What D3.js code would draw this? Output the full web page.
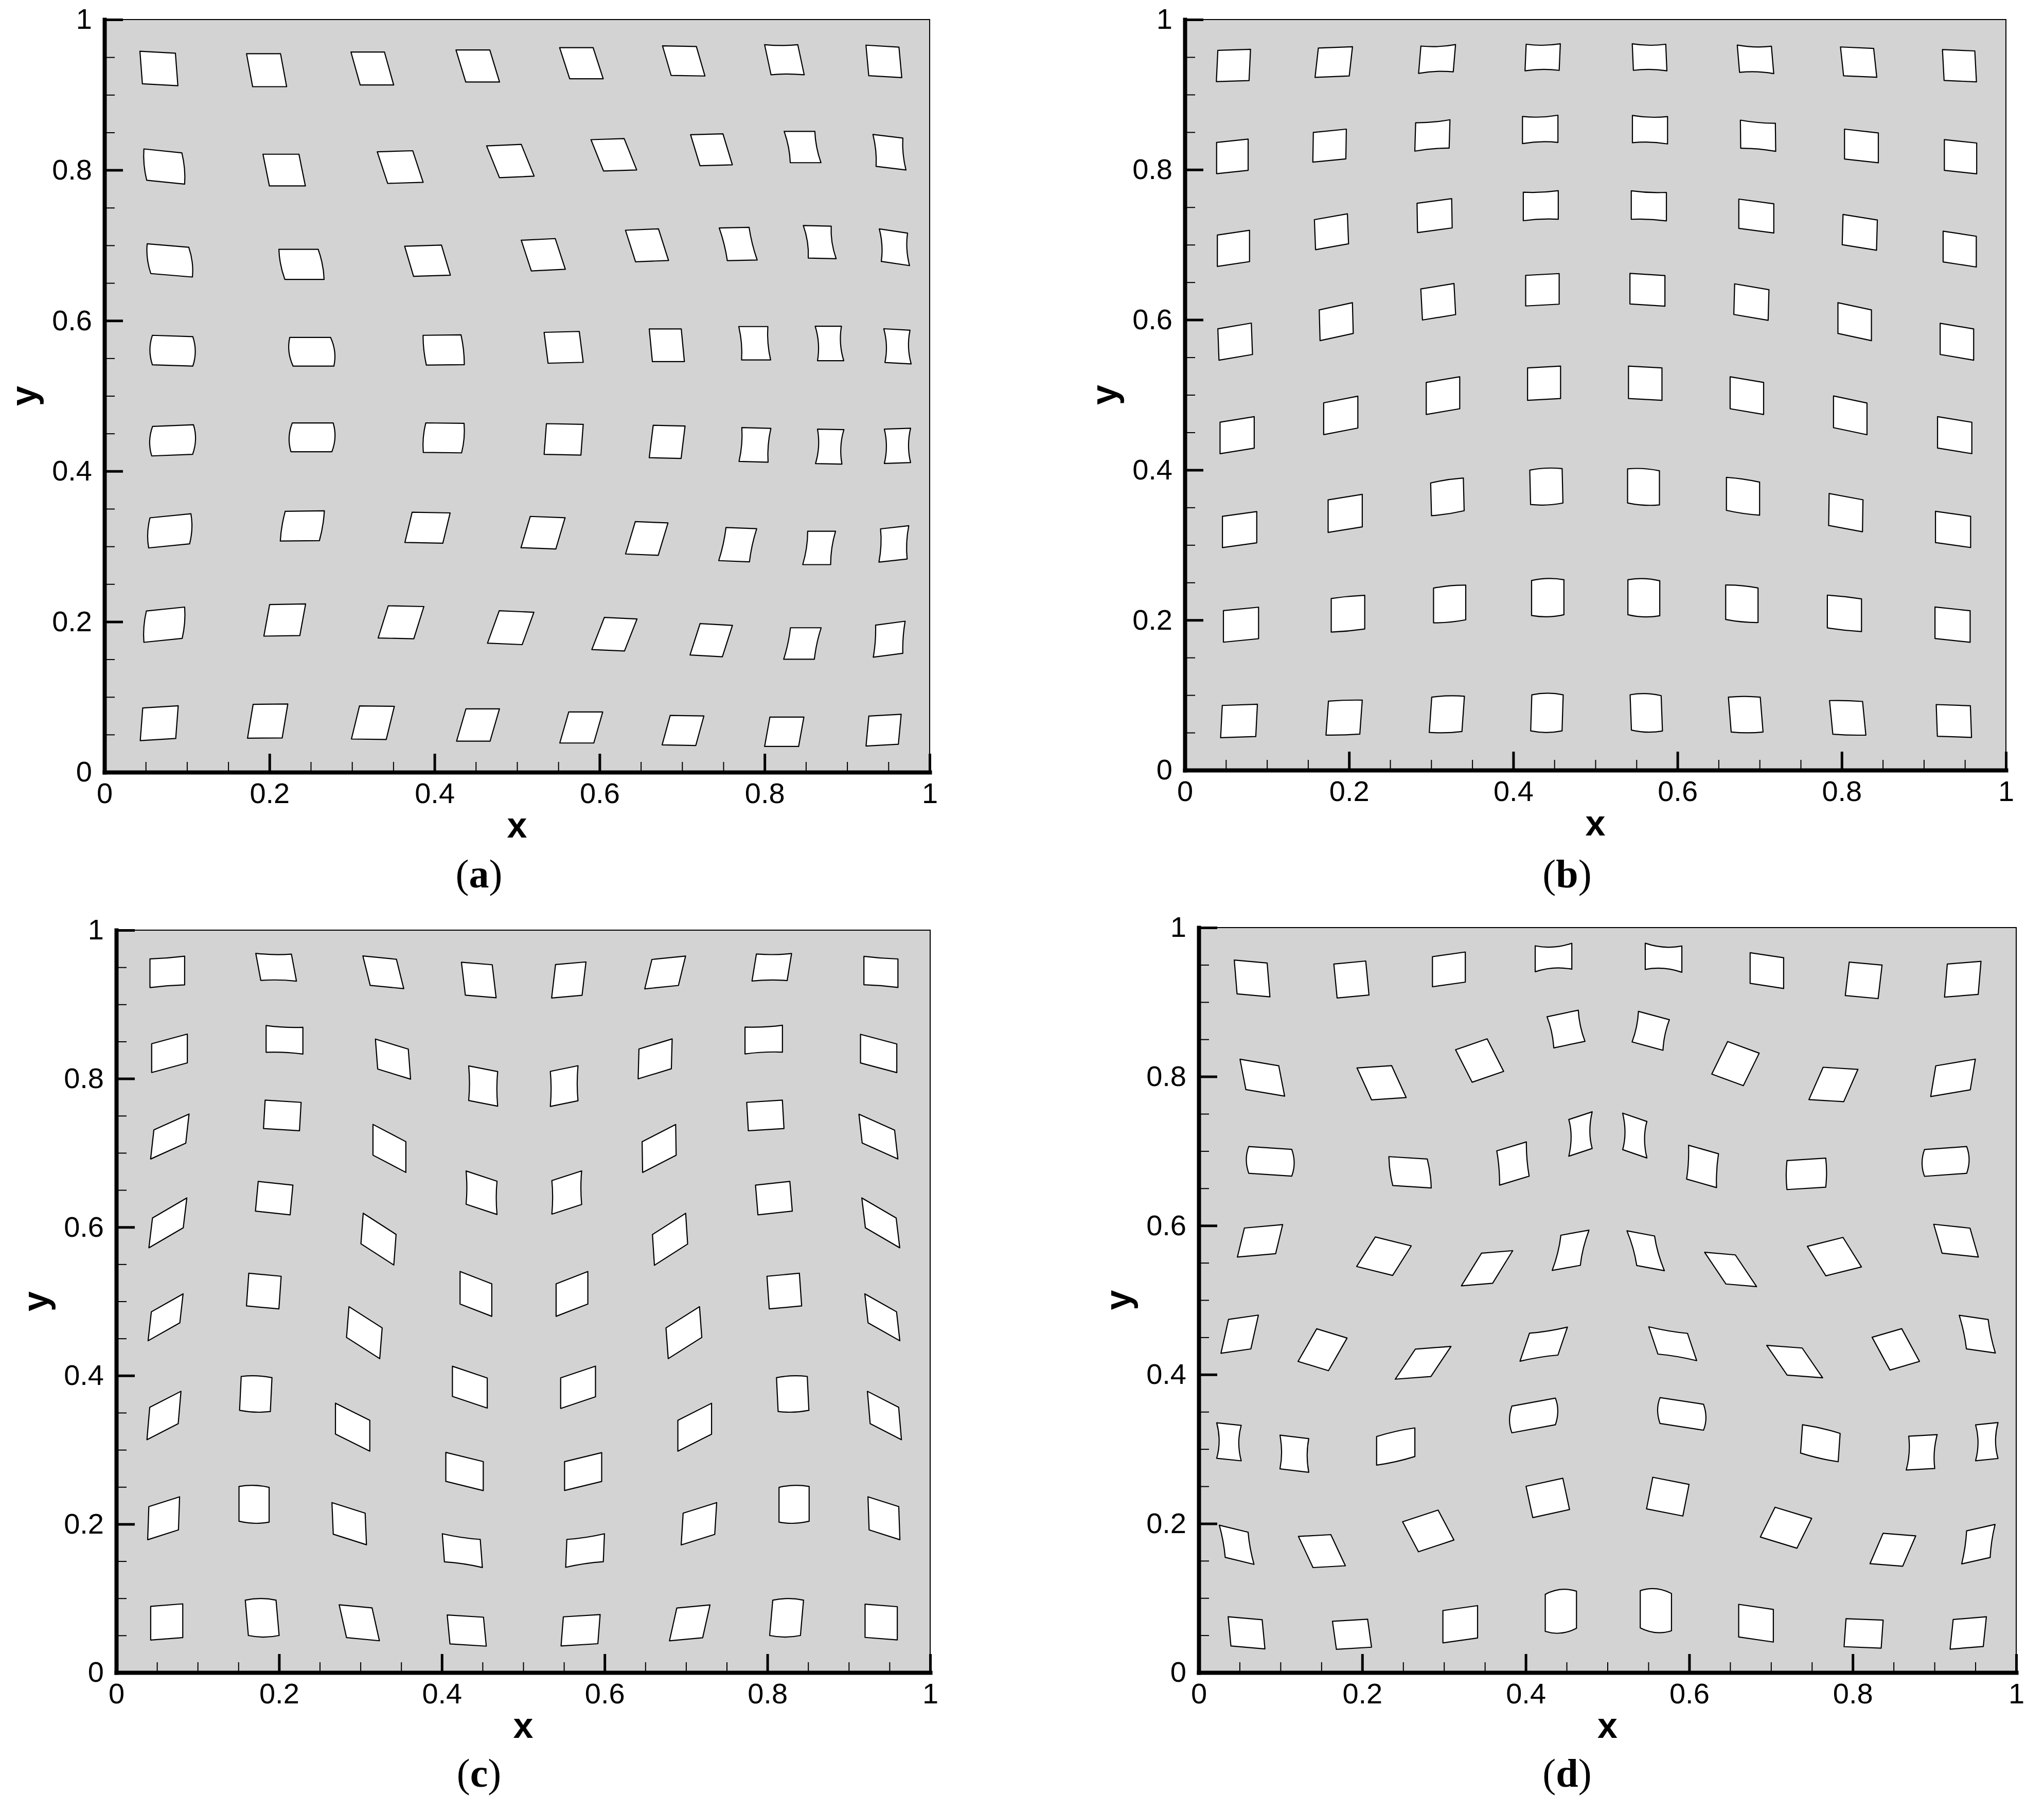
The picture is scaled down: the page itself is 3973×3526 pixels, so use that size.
<!DOCTYPE html>
<html>
<head>
<meta charset="utf-8">
<script src="https://cdn.jsdelivr.net/npm/d3@7"></script>
<style>
  html, body { margin: 0; padding: 0; background: #fff; }
  svg { display: block; }
</style>
</head>
<body>
<div id="chart"></div>
<script>
// Each cell: [cx, cy, halfW, halfH, tiltY, shearX, bulgeH, bulgeV] in data units
// tiltY  = rise of the right edge midpoint above the centre
// shearX = shift of the top edge midpoint to the right of the centre
// bulge  = sagitta of the curved edges (+ outward, - inward)
// rows run from the top row (y ~ 0.94) down to the bottom row (y ~ 0.06)

const shapesA = [
  [0.066, 0.935, 0.0215, 0.0216, -0.0013, -0.0015, 0, 0],
  [0.1965, 0.9327, 0.0206, 0.0219, 0, -0.0037, 0, 0],
  [0.3246, 0.935, 0.0203, 0.0219, 0, -0.0056, 0, 0],
  [0.4524, 0.9383, 0.0205, 0.0213, 0, -0.0059, 0, 0],
  [0.578, 0.942, 0.0203, 0.0207, 0, -0.0061, 0, 0],
  [0.702, 0.945, 0.0205, 0.0196, -0.0004, -0.0052, 0, 0],
  [0.824, 0.9466, 0.0201, 0.020, 0, -0.0039, -0.001, 0],
  [0.9445, 0.9444, 0.020, 0.0203, -0.0013, -0.0017, 0, 0],

  [0.0725, 0.8047, 0.023, 0.0208, -0.0026, -0.0017, 0, 0.0015],
  [0.2178, 0.80, 0.0218, 0.0211, 0, -0.0039, 0, 0],
  [0.3584, 0.804, 0.0215, 0.021, 0.0007, -0.0063, 0, 0],
  [0.4919, 0.812, 0.021, 0.0211, 0.001, -0.0078, 0, 0],
  [0.6173, 0.8203, 0.0201, 0.0208, 0.0007, -0.0076, 0, 0],
  [0.7356, 0.827, 0.0196, 0.0206, 0.0006, -0.0057, 0, 0],
  [0.846, 0.8306, 0.0186, 0.0208, 0, -0.0037, 0, -0.0015],
  [0.9513, 0.8237, 0.0181, 0.0212, -0.0024, -0.0019, 0, -0.0015],

  [0.0792, 0.68, 0.0252, 0.0198, -0.0023, -0.0022, 0, 0.002],
  [0.2388, 0.6747, 0.0238, 0.020, 0, -0.0036, 0, 0.0015],
  [0.3915, 0.6796, 0.0223, 0.020, 0.0008, -0.0054, 0, 0],
  [0.5318, 0.6875, 0.0206, 0.0204, 0.0011, -0.0061, 0, 0],
  [0.6575, 0.70, 0.020, 0.021, 0.0009, -0.0061, 0, 0],
  [0.768, 0.7018, 0.0181, 0.0217, 0.0004, -0.0049, 0, -0.001],
  [0.8668, 0.7043, 0.0169, 0.0216, -0.0004, -0.003, 0, -0.002],
  [0.9573, 0.6975, 0.0171, 0.0216, -0.0028, -0.0012, 0, -0.002],

  [0.0826, 0.56, 0.0245, 0.0196, -0.0009, 0, 0, 0.003],
  [0.2513, 0.5586, 0.0247, 0.0191, 0, -0.002, 0, 0.003],
  [0.4111, 0.561, 0.023, 0.0198, 0.0003, -0.002, 0, 0.001],
  [0.5565, 0.5645, 0.0213, 0.0205, 0.0006, -0.0024, 0, 0],
  [0.6815, 0.5673, 0.0194, 0.0217, 0, -0.0019, 0, 0],
  [0.788, 0.5699, 0.0176, 0.0222, 0, -0.0017, 0, -0.0015],
  [0.8786, 0.5696, 0.0159, 0.0229, 0, -0.0014, 0, -0.0025],
  [0.961, 0.5658, 0.0159, 0.0224, -0.001, -0.0007, 0, -0.0025],

  [0.0826, 0.4409, 0.0248, 0.0196, 0.0011, 0.0005, 0, 0.003],
  [0.2516, 0.4449, 0.0248, 0.0191, 0, 0.0008, 0, 0.003],
  [0.4111, 0.4442, 0.0232, 0.0196, -0.0003, 0.0015, 0, 0.0015],
  [0.5565, 0.4422, 0.0223, 0.0204, -0.0005, 0.0014, 0, 0],
  [0.6819, 0.4389, 0.0193, 0.0215, -0.0005, 0.0024, 0, 0],
  [0.7883, 0.4349, 0.0176, 0.0225, -0.0005, 0.0017, 0, -0.0015],
  [0.8789, 0.4326, 0.016, 0.0229, -0.0003, 0.0012, 0, -0.0025],
  [0.961, 0.4336, 0.0159, 0.0228, 0.0006, 0, 0, -0.0025],

  [0.0792, 0.3207, 0.0248, 0.020, 0.0027, 0.0008, 0, 0.002],
  [0.2398, 0.3272, 0.0237, 0.0198, 0.0003, 0.003, 0, 0.001],
  [0.3915, 0.3249, 0.023, 0.0201, -0.0005, 0.0044, 0, 0],
  [0.5315, 0.3182, 0.0211, 0.0208, -0.0009, 0.0056, 0, 0],
  [0.6572, 0.3106, 0.0198, 0.0215, -0.0009, 0.0059, 0, 0],
  [0.7674, 0.3023, 0.0186, 0.022, -0.0008, 0.0044, 0, -0.001],
  [0.8661, 0.298, 0.0169, 0.0222, 0, 0.003, 0, -0.0015],
  [0.9566, 0.3033, 0.0171, 0.0221, 0.0021, 0.001, 0, -0.0015],

  [0.0725, 0.196, 0.0232, 0.0208, 0.0026, 0.0015, 0, 0.0015],
  [0.2185, 0.2022, 0.0218, 0.021, 0.0004, 0.0035, 0, 0],
  [0.3594, 0.1992, 0.0216, 0.0214, -0.0005, 0.0061, 0, 0],
  [0.4923, 0.192, 0.021, 0.0215, -0.001, 0.0071, 0, 0],
  [0.618, 0.1833, 0.0198, 0.0213, -0.001, 0.0076, 0, 0],
  [0.7353, 0.1754, 0.0196, 0.0209, -0.0012, 0.0061, 0, 0],
  [0.8458, 0.171, 0.0186, 0.0209, 0, 0.0041, 0, -0.001],
  [0.951, 0.1767, 0.0179, 0.0213, 0.0026, 0.0014, 0, -0.001],

  [0.0664, 0.0651, 0.0215, 0.0217, 0.0015, 0.0015, 0, 0],
  [0.1978, 0.0679, 0.021, 0.0225, 0.0002, 0.0034, 0, 0],
  [0.3253, 0.0658, 0.0211, 0.022, -0.0003, 0.0049, 0, 0],
  [0.4527, 0.0627, 0.0203, 0.0215, 0, 0.0057, 0, 0],
  [0.5778, 0.0594, 0.0206, 0.0206, 0, 0.0054, 0, 0],
  [0.7011, 0.0555, 0.0204, 0.0196, -0.0004, 0.0049, 0, 0],
  [0.8238, 0.0537, 0.0206, 0.0195, 0, 0.0032, 0, 0],
  [0.9442, 0.0559, 0.0196, 0.0199, 0.0012, 0.0017, 0, 0]
];

const shapesB = [
  [0.0592, 0.9388, 0.0199, 0.0208, 0.0007, 0.0009, 0, 0],
  [0.1814, 0.9434, 0.0208, 0.0195, 0.0009, 0.002, 0, 0],
  [0.3072, 0.9475, 0.0211, 0.0182, 0.001, 0.0014, -0.0015, 0],
  [0.4358, 0.9497, 0.0208, 0.0177, 0.0003, 0.0007, -0.0015, 0],
  [0.566, 0.9497, 0.0204, 0.0177, -0.0003, -0.0007, -0.0015, 0],
  [0.695, 0.947, 0.0208, 0.0182, -0.0008, -0.0014, -0.0015, 0],
  [0.8206, 0.9433, 0.0202, 0.0192, -0.001, -0.0019, 0, 0],
  [0.9434, 0.9385, 0.0197, 0.0206, -0.0009, -0.001, 0, 0],

  [0.0579, 0.8177, 0.0192, 0.0208, 0.0022, 0, 0, 0],
  [0.1763, 0.832, 0.0201, 0.0198, 0.0022, 0.0003, 0, 0],
  [0.3015, 0.8456, 0.0209, 0.0189, 0.002, 0.0005, -0.001, 0],
  [0.4328, 0.8536, 0.0216, 0.0181, 0.0008, 0, -0.0015, 0],
  [0.5665, 0.8533, 0.0214, 0.0182, -0.0008, 0, -0.0015, 0],
  [0.6981, 0.8452, 0.0213, 0.0187, -0.0021, -0.0002, -0.001, 0],
  [0.824, 0.8316, 0.0206, 0.0199, -0.0025, 0, 0, 0],
  [0.9447, 0.8173, 0.0197, 0.0205, -0.0023, 0, 0, 0],

  [0.0592, 0.6952, 0.0196, 0.0209, 0.0032, 0, 0, 0],
  [0.1786, 0.7173, 0.0201, 0.020, 0.0039, -0.0007, 0, 0],
  [0.3042, 0.7388, 0.0211, 0.0195, 0.0031, -0.0003, 0, 0],
  [0.4335, 0.752, 0.0213, 0.019, 0.001, 0, -0.001, 0],
  [0.5651, 0.7518, 0.0214, 0.019, -0.0011, 0, -0.001, 0],
  [0.696, 0.7382, 0.0213, 0.0195, -0.0031, 0, 0, 0],
  [0.822, 0.7165, 0.0209, 0.0201, -0.0037, 0.0005, 0, 0],
  [0.9437, 0.6942, 0.0202, 0.0205, -0.0034, 0, 0, 0],

  [0.0613, 0.5709, 0.0204, 0.0209, 0.0038, -0.0007, 0, 0],
  [0.1844, 0.5975, 0.0202, 0.0205, 0.0048, -0.0005, 0, 0],
  [0.3086, 0.624, 0.0202, 0.0207, 0.0036, -0.001, 0, 0],
  [0.4355, 0.64, 0.0204, 0.0204, 0.0012, 0, 0, 0],
  [0.5634, 0.64, 0.0213, 0.0204, -0.0015, 0, 0, 0],
  [0.69, 0.6236, 0.0209, 0.0204, -0.0039, 0.0005, 0, 0],
  [0.8158, 0.5975, 0.0204, 0.0205, -0.0048, 0, 0, 0],
  [0.9403, 0.5708, 0.0204, 0.0208, -0.0038, 0, 0, 0],

  [0.0637, 0.4463, 0.0208, 0.021, 0.0037, 0, 0, 0],
  [0.1899, 0.4726, 0.0208, 0.0212, 0.0044, 0, 0, 0],
  [0.3144, 0.499, 0.0204, 0.0213, 0.0038, 0, 0, 0],
  [0.4375, 0.5155, 0.0201, 0.0216, 0.0012, 0, 0, 0],
  [0.5607, 0.5155, 0.0204, 0.0216, -0.0012, 0, 0, 0],
  [0.6845, 0.499, 0.0204, 0.0213, -0.0038, 0, 0, 0],
  [0.8104, 0.4727, 0.0204, 0.0211, -0.0047, 0, 0, 0],
  [0.9376, 0.4463, 0.0209, 0.0209, -0.0037, 0, 0, 0],

  [0.0667, 0.3205, 0.0209, 0.0208, 0.0032, 0, 0, 0],
  [0.1953, 0.3421, 0.0208, 0.0217, 0.0037, 0, 0, 0],
  [0.3198, 0.3641, 0.0199, 0.0218, 0.0033, -0.0005, 0.0008, 0],
  [0.4403, 0.3778, 0.0197, 0.0229, 0.001, -0.0005, 0.0015, 0],
  [0.5586, 0.3774, 0.0194, 0.0227, -0.0013, 0, 0.0015, 0],
  [0.6798, 0.3649, 0.0202, 0.022, -0.0032, 0, 0.0008, 0],
  [0.805, 0.3431, 0.0206, 0.0213, -0.0042, 0.0003, 0, 0],
  [0.9356, 0.3207, 0.0214, 0.0208, -0.0033, 0, 0, 0],

  [0.0684, 0.1938, 0.0214, 0.021, 0.0023, 0, 0, 0],
  [0.1987, 0.2084, 0.0204, 0.0224, 0.0021, 0, 0.0005, 0],
  [0.3225, 0.2214, 0.0196, 0.0231, 0.002, 0, 0.001, 0],
  [0.442, 0.2299, 0.0197, 0.0233, 0.0005, 0, 0.002, 0],
  [0.559, 0.2297, 0.0194, 0.0233, -0.0007, 0, 0.002, 0],
  [0.6784, 0.2217, 0.0197, 0.023, -0.002, 0, 0.001, 0],
  [0.8033, 0.2089, 0.0208, 0.0218, -0.0025, 0, 0.0005, 0],
  [0.935, 0.1939, 0.0214, 0.021, -0.0025, 0, 0, 0],

  [0.066, 0.0655, 0.0214, 0.0215, 0.0008, 0.001, 0, 0],
  [0.194, 0.07, 0.0206, 0.0226, 0.0007, 0.0015, 0.0005, 0],
  [0.3191, 0.0744, 0.0199, 0.0235, 0.0006, 0.0015, 0.001, 0],
  [0.441, 0.0763, 0.0191, 0.024, 0, 0.0007, 0.002, 0],
  [0.562, 0.0763, 0.0189, 0.0235, -0.0006, -0.0008, 0.002, 0],
  [0.6831, 0.074, 0.0194, 0.0232, 0, -0.0017, 0.001, 0],
  [0.8073, 0.0697, 0.0201, 0.0224, -0.0006, -0.002, 0.0005, 0],
  [0.9366, 0.0655, 0.0208, 0.0211, -0.0008, -0.0007, 0, 0]
];

const shapesC = [
  [0.0627, 0.9438, 0.0213, 0.0193, 0.0018, 0, -0.0005, 0],
  [0.1964, 0.95, 0.0219, 0.0182, -0.0005, -0.0031, -0.001, 0],
  [0.3281, 0.9432, 0.0206, 0.0198, -0.0022, -0.0045, 0, 0],
  [0.4454, 0.9329, 0.0189, 0.0222, -0.0017, -0.0024, 0, 0],
  [0.556, 0.9329, 0.0187, 0.0225, 0.0018, 0.0024, 0, 0],
  [0.6744, 0.943, 0.0207, 0.0198, 0.0023, 0.0044, 0, 0],
  [0.8054, 0.95, 0.0216, 0.0182, 0.0003, 0.0027, -0.001, 0],
  [0.9395, 0.9438, 0.0209, 0.0192, -0.0018, 0, -0.0005, 0],

  [0.0654, 0.8341, 0.0219, 0.0194, 0.0065, 0, 0, 0],
  [0.2067, 0.8523, 0.0226, 0.018, -0.0012, 0, -0.001, 0],
  [0.34, 0.8263, 0.0202, 0.0202, -0.0068, -0.0014, 0, 0],
  [0.4508, 0.79, 0.0178, 0.0233, -0.0038, 0, 0, -0.001],
  [0.5503, 0.79, 0.017, 0.0236, 0.0038, 0, 0, -0.001],
  [0.6621, 0.8266, 0.0204, 0.0201, 0.0068, 0.0005, 0, 0],
  [0.7955, 0.8526, 0.023, 0.0181, 0.0012, 0, -0.001, 0],
  [0.9367, 0.8339, 0.0223, 0.0193, -0.0065, 0, 0, 0],

  [0.0658, 0.722, 0.0216, 0.0196, 0.0107, 0.002, 0, 0],
  [0.204, 0.7504, 0.0221, 0.0191, -0.0015, 0.001, 0, 0],
  [0.3356, 0.706, 0.0202, 0.0207, -0.0116, 0, 0, 0],
  [0.4488, 0.6463, 0.019, 0.0224, -0.0069, 0, 0, -0.001],
  [0.5535, 0.6466, 0.0183, 0.0226, 0.0065, 0, 0, -0.001],
  [0.667, 0.7059, 0.0206, 0.0207, 0.0116, -0.0003, 0, 0],
  [0.7975, 0.7504, 0.0219, 0.0191, 0.0015, -0.001, 0, 0],
  [0.9364, 0.7219, 0.0219, 0.0194, -0.0107, -0.002, 0, 0],

  [0.0634, 0.6057, 0.0211, 0.0201, 0.0135, 0.0022, 0, 0],
  [0.194, 0.639, 0.0213, 0.020, -0.0025, 0.0017, 0, 0],
  [0.3222, 0.5838, 0.0202, 0.0206, -0.0143, 0.0014, 0, 0],
  [0.4419, 0.51, 0.0195, 0.0219, -0.0083, 0, 0, 0],
  [0.5599, 0.51, 0.0195, 0.0219, 0.0083, 0, 0, 0],
  [0.6804, 0.5836, 0.0204, 0.0207, 0.0143, -0.0012, 0, 0],
  [0.808, 0.639, 0.0211, 0.020, 0.0025, -0.0015, 0, 0],
  [0.9393, 0.6057, 0.0211, 0.0201, -0.0135, -0.0022, 0, 0],

  [0.0606, 0.4785, 0.0195, 0.0195, 0.0121, 0.002, 0, 0],
  [0.1813, 0.5138, 0.0199, 0.022, -0.002, 0.0014, 0, 0],
  [0.3048, 0.4578, 0.0204, 0.0207, -0.0143, 0.0015, 0, 0],
  [0.4344, 0.3844, 0.0214, 0.0203, -0.0079, 0, 0, 0],
  [0.5674, 0.3842, 0.0214, 0.0206, 0.0079, 0, 0, 0],
  [0.6974, 0.4578, 0.0206, 0.0207, 0.0143, -0.0014, 0, 0],
  [0.8208, 0.5138, 0.0199, 0.022, 0.002, -0.0014, 0, 0],
  [0.9412, 0.4785, 0.0195, 0.0195, -0.0121, -0.002, 0, 0],

  [0.0586, 0.3462, 0.0192, 0.0218, 0.0108, 0.0017, 0, 0],
  [0.1714, 0.3752, 0.0189, 0.0228, -0.0008, 0.001, 0.0015, 0],
  [0.2904, 0.3305, 0.0211, 0.0208, -0.0115, 0, 0, 0],
  [0.4279, 0.2708, 0.023, 0.0195, -0.0062, 0, 0, 0],
  [0.5736, 0.2707, 0.0228, 0.0194, 0.0061, 0, 0, 0],
  [0.7107, 0.3304, 0.0207, 0.0208, 0.0115, 0, 0, 0],
  [0.8311, 0.3752, 0.0189, 0.0228, 0.0008, -0.001, 0.0015, 0],
  [0.9438, 0.3462, 0.0192, 0.0218, -0.0108, -0.0017, 0, 0],

  [0.0582, 0.2078, 0.0189, 0.0223, 0.0066, 0.0007, 0, 0],
  [0.1693, 0.2266, 0.0185, 0.0234, -0.0006, 0, 0.002, 0],
  [0.2862, 0.2005, 0.0204, 0.0213, -0.0071, -0.0008, 0, 0],
  [0.4252, 0.1642, 0.0233, 0.0189, -0.0038, -0.0013, -0.001, 0],
  [0.576, 0.1643, 0.0231, 0.0188, 0.0038, 0.0007, -0.001, 0],
  [0.7159, 0.2004, 0.0206, 0.0214, 0.0071, 0.0012, 0, 0],
  [0.8328, 0.2266, 0.0185, 0.0234, 0.0006, 0, 0.002, 0],
  [0.9432, 0.2078, 0.0189, 0.0223, -0.0066, -0.0007, 0, 0],

  [0.062, 0.0681, 0.0197, 0.0227, 0.0017, 0, 0, 0],
  [0.1793, 0.0737, 0.0189, 0.0238, 0, -0.0019, 0.002, 0],
  [0.2986, 0.067, 0.0202, 0.0221, -0.0021, -0.0045, 0, 0],
  [0.4306, 0.0565, 0.0223, 0.0195, -0.0015, -0.0017, 0, 0],
  [0.5705, 0.0569, 0.0226, 0.0196, 0.0015, 0.0014, 0, 0],
  [0.7046, 0.0669, 0.0204, 0.0221, 0.0021, 0.0045, 0, 0],
  [0.8236, 0.0737, 0.0189, 0.0238, 0, 0.0019, 0.002, 0],
  [0.9398, 0.068, 0.0198, 0.0224, -0.0017, 0, 0, 0]
];

const shapesD = [
  [0.0653, 0.9317, 0.0201, 0.0227, -0.002, -0.0017, 0, 0],
  [0.1868, 0.9303, 0.0195, 0.0228, 0.002, -0.002, 0, 0],
  [0.306, 0.9439, 0.0201, 0.0202, 0.0031, 0, 0, 0],
  [0.434, 0.9598, 0.0224, 0.0174, 0.0017, 0, -0.003, 0],
  [0.5686, 0.9595, 0.0224, 0.0176, -0.0019, 0, -0.003, 0],
  [0.695, 0.9423, 0.0205, 0.0206, -0.0034, 0, 0, 0],
  [0.8134, 0.9292, 0.0201, 0.0225, -0.002, 0.0024, 0, 0],
  [0.9346, 0.9307, 0.0206, 0.0222, 0.0018, 0.0017, 0, 0],

  [0.0778, 0.7985, 0.0237, 0.0204, -0.0044, -0.0036, 0, 0],
  [0.2237, 0.7917, 0.0212, 0.0214, 0.0015, -0.0089, 0, 0],
  [0.3436, 0.8215, 0.0193, 0.0218, 0.0073, -0.0101, 0, 0],
  [0.4493, 0.8638, 0.0191, 0.0209, 0.0044, -0.0041, 0, -0.0015],
  [0.5529, 0.8614, 0.0189, 0.0205, -0.0056, 0.0039, 0, -0.0015],
  [0.6566, 0.8174, 0.0193, 0.0218, -0.0078, 0.0097, 0, 0],
  [0.7764, 0.7894, 0.0213, 0.0217, -0.0014, 0.0087, 0, 0],
  [0.9227, 0.7983, 0.0242, 0.0206, 0.0045, 0.0031, 0, 0],

  [0.0875, 0.6862, 0.0263, 0.0179, -0.0019, 0, 0, 0.003],
  [0.2585, 0.6715, 0.0235, 0.0194, -0.0016, -0.0024, 0, 0.001],
  [0.3844, 0.6833, 0.0181, 0.023, 0.006, -0.0017, 0, -0.001],
  [0.467, 0.7229, 0.0143, 0.0246, 0.0052, 0, 0, -0.003],
  [0.5334, 0.7208, 0.0148, 0.0245, -0.0056, 0, 0, -0.003],
  [0.6163, 0.6794, 0.0183, 0.0227, -0.0057, 0.0012, 0, -0.001],
  [0.7433, 0.6694, 0.0237, 0.0195, 0.0016, 0, 0, 0.001],
  [0.9136, 0.6861, 0.0258, 0.018, 0.002, 0, 0, 0.003],

  [0.075, 0.5795, 0.0234, 0.0195, 0.0023, 0.0043, 0, 0],
  [0.2266, 0.5589, 0.022, 0.0198, -0.006, 0.0114, 0, 0],
  [0.3527, 0.5427, 0.0191, 0.0219, 0.0017, 0.0123, 0, 0],
  [0.4549, 0.5668, 0.0172, 0.0236, 0.0034, 0.0053, 0, -0.0015],
  [0.5467, 0.5662, 0.0169, 0.0233, -0.0035, -0.006, 0, -0.0015],
  [0.6506, 0.5411, 0.0188, 0.0213, -0.0018, -0.013, 0, 0],
  [0.7776, 0.5583, 0.0218, 0.0198, 0.006, -0.0113, 0, 0],
  [0.9264, 0.5797, 0.0222, 0.0194, -0.0026, -0.0051, 0, 0],

  [0.0501, 0.4542, 0.0183, 0.0227, 0.0029, 0.0046, 0, 0],
  [0.1515, 0.4333, 0.0186, 0.0219, -0.0062, 0.0114, 0, 0],
  [0.2745, 0.4158, 0.0218, 0.0202, 0.0018, 0.0123, 0, 0],
  [0.422, 0.4408, 0.0232, 0.0188, 0.0041, 0.0058, -0.001, 0],
  [0.5798, 0.4414, 0.0237, 0.0183, -0.0044, -0.0056, -0.001, 0],
  [0.729, 0.4174, 0.0217, 0.020, -0.0018, -0.0125, 0, 0],
  [0.8527, 0.4338, 0.0181, 0.022, 0.0058, -0.0109, 0, 0],
  [0.9524, 0.4542, 0.0177, 0.0225, -0.0028, -0.0044, 0, -0.001],

  [0.037, 0.3097, 0.015, 0.0238, -0.0017, 0, 0, -0.003],
  [0.117, 0.2937, 0.0176, 0.0226, -0.0023, 0, 0, -0.002],
  [0.241, 0.3034, 0.0234, 0.0192, 0.0058, 0, 0.001, 0],
  [0.4097, 0.3451, 0.0266, 0.0179, 0.0054, 0, 0, 0.003],
  [0.5909, 0.3472, 0.0266, 0.0174, -0.0045, 0, 0, 0.003],
  [0.7604, 0.3078, 0.023, 0.019, -0.0058, 0.0012, 0.001, 0],
  [0.8844, 0.2956, 0.0174, 0.0227, 0.001, 0.0015, 0, -0.002],
  [0.964, 0.3099, 0.0137, 0.0241, 0.0015, 0, 0, -0.003],

  [0.0464, 0.1715, 0.0176, 0.0216, -0.0047, -0.0036, 0, -0.001],
  [0.1507, 0.163, 0.0198, 0.0209, 0.0012, -0.0089, 0, 0],
  [0.2808, 0.1901, 0.0217, 0.0201, 0.0079, -0.0097, 0, 0],
  [0.427, 0.2344, 0.0225, 0.021, 0.0054, -0.0041, 0, 0],
  [0.5738, 0.2361, 0.0222, 0.0212, -0.0048, 0.0038, 0, 0],
  [0.7184, 0.1944, 0.0224, 0.020, -0.0075, 0.009, 0, 0],
  [0.8491, 0.1648, 0.020, 0.0204, -0.0017, 0.008, 0, 0],
  [0.9537, 0.1723, 0.0174, 0.0222, 0.0043, 0.003, 0, -0.001],

  [0.0585, 0.0533, 0.0208, 0.0196, -0.002, -0.0017, 0, 0],
  [0.1875, 0.0514, 0.0215, 0.0188, 0.0014, -0.0024, 0, 0],
  [0.3199, 0.0648, 0.0212, 0.0217, 0.0033, 0, 0, 0],
  [0.443, 0.0822, 0.0191, 0.0249, 0.0021, 0, 0.004, 0],
  [0.5592, 0.083, 0.0191, 0.025, -0.0019, 0, 0.004, 0],
  [0.6817, 0.0662, 0.0212, 0.0219, -0.0034, 0, 0, 0],
  [0.8133, 0.0525, 0.0227, 0.0188, -0.001, 0.0012, 0, 0],
  [0.9413, 0.0531, 0.0203, 0.0199, 0.0018, 0.0019, 0, 0]
];

const majorTicks = [0, 0.2, 0.4, 0.6, 0.8, 1];
const minorTicks = [0.05, 0.1, 0.15, 0.25, 0.3, 0.35, 0.45, 0.5, 0.55, 0.65, 0.7, 0.75, 0.85, 0.9, 0.95];
const panelLetters = ["a", "b", "c", "d"];

(function () {
  const WIDTH = 3973;
  const HEIGHT = 3526;

  const SANS = "'Liberation Sans', Arial, Helvetica, sans-serif";
  const SERIF = "'Liberation Serif', 'Times New Roman', serif";
  const BG = "#d3d3d3";

  // frame of each sub plot (pixels) and where its caption sits
  const frames = [
    { left: 203, right: 1807, top: 38, bottom: 1501, capX: 931, capY: 1725 },
    { left: 2303, right: 3899, top: 38, bottom: 1497, capX: 3046, capY: 1725 },
    { left: 226, right: 1808, top: 1808, bottom: 3251, capX: 931, capY: 3473 },
    { left: 2330, right: 3919, top: 1803, bottom: 3251, capX: 3046, capY: 3473 }
  ];
  const shapeSets = [shapesA, shapesB, shapesC, shapesD];

  const svg = d3.select("#chart").append("svg")
    .attr("width", WIDTH)
    .attr("height", HEIGHT)
    .style("background", "#fff");

  // one deformed cell -> path with (optionally) curved edges
  function cellPath(s, x, y) {
    const [cx, cy, hw, hh, uy, vx, bH, bV] = s;
    const pts = [
      [cx - hw - vx, cy - uy - hh],
      [cx + hw - vx, cy + uy - hh],
      [cx + hw + vx, cy + uy + hh],
      [cx - hw + vx, cy - uy + hh]
    ].map(p => [x(p[0]), y(p[1])]);
    const c = [x(cx), y(cy)];
    const k = x(1) - x(0);
    const bulge = [bH, bV, bH, bV];
    const path = d3.path();
    path.moveTo(pts[0][0], pts[0][1]);
    for (let i = 0; i < 4; i++) {
      const p0 = pts[i], p1 = pts[(i + 1) % 4];
      const mx = (p0[0] + p1[0]) / 2, my = (p0[1] + p1[1]) / 2;
      const dx = mx - c[0], dy = my - c[1];
      const len = Math.hypot(dx, dy) || 1;
      const off = 2 * bulge[i] * k;
      path.quadraticCurveTo(mx + dx / len * off, my + dy / len * off, p1[0], p1[1]);
    }
    path.closePath();
    return path.toString();
  }

  function styleAxis(g, major) {
    g.selectAll(".tick line")
      .attr("stroke", "#000")
      .attr("stroke-width", major ? 5 : 2);
    g.selectAll(".tick text")
      .attr("fill", "#000")
      .style("font-family", SANS)
      .style("font-size", "56px");
  }

  function drawPanel(f, shapes, letter) {
    const x = d3.scaleLinear().domain([0, 1]).range([f.left, f.right]);
    const y = d3.scaleLinear().domain([0, 1]).range([f.bottom, f.top]);
    const g = svg.append("g").attr("class", `panel panel-${letter}`);

    // plot background + thin frame (top / right)
    g.append("rect")
      .attr("x", f.left)
      .attr("y", f.top)
      .attr("width", f.right - f.left)
      .attr("height", f.bottom - f.top)
      .attr("fill", BG)
      .attr("stroke", "#000")
      .attr("stroke-width", 2);

    // deformed cells
    g.append("g")
      .selectAll("path")
      .data(shapes)
      .enter()
      .append("path")
      .attr("d", d => cellPath(d, x, y))
      .attr("fill", "#fff")
      .attr("stroke", "#000")
      .attr("stroke-width", 2.2)
      .attr("stroke-linejoin", "round");

    // minor ticks (inward)
    const minorLeft = g.append("g")
      .attr("transform", `translate(${f.left},0)`)
      .call(d3.axisLeft(y).tickValues(minorTicks).tickSize(-20).tickFormat(() => ""));
    minorLeft.select(".domain").remove();
    styleAxis(minorLeft, false);

    const minorBottom = g.append("g")
      .attr("transform", `translate(0,${f.bottom})`)
      .call(d3.axisBottom(x).tickValues(minorTicks).tickSize(-20).tickFormat(() => ""));
    minorBottom.select(".domain").remove();
    styleAxis(minorBottom, false);

    // major ticks + labels
    const leftAxis = g.append("g")
      .attr("transform", `translate(${f.left},0)`)
      .call(d3.axisLeft(y).tickValues(majorTicks).tickSize(-36).tickSizeOuter(0)
        .tickPadding(24).tickFormat(d => String(d)));
    leftAxis.select(".domain")
      .attr("stroke", "#000")
      .attr("stroke-width", 8)
      .attr("stroke-linecap", "square");
    styleAxis(leftAxis, true);

    const bottomAxis = g.append("g")
      .attr("transform", `translate(0,${f.bottom})`)
      .call(d3.axisBottom(x).tickValues(majorTicks).tickSize(-36).tickSizeOuter(0)
        .tickPadding(20).tickFormat(d => String(d)));
    bottomAxis.select(".domain")
      .attr("stroke", "#000")
      .attr("stroke-width", 8)
      .attr("stroke-linecap", "square");
    styleAxis(bottomAxis, true);

    // axis titles
    g.append("text")
      .attr("x", (f.left + f.right) / 2)
      .attr("y", f.bottom + 127)
      .attr("text-anchor", "middle")
      .style("font-family", SANS)
      .style("font-weight", "bold")
      .style("font-size", "70px")
      .text("x");

    g.append("text")
      .attr("transform", `translate(${f.left - 133},${(f.top + f.bottom) / 2}) rotate(-90)`)
      .attr("text-anchor", "middle")
      .style("font-family", SANS)
      .style("font-weight", "bold")
      .style("font-size", "70px")
      .text("y");

    // caption (a), (b) ...
    const cap = g.append("text")
      .attr("x", f.capX)
      .attr("y", f.capY)
      .attr("text-anchor", "middle")
      .style("font-family", SERIF)
      .style("font-size", "78px");
    cap.append("tspan").text("(");
    cap.append("tspan").style("font-weight", "bold").text(letter);
    cap.append("tspan").text(")");
  }

  frames.forEach((f, i) => drawPanel(f, shapeSets[i], panelLetters[i]));
})();
</script>
</body>
</html>
